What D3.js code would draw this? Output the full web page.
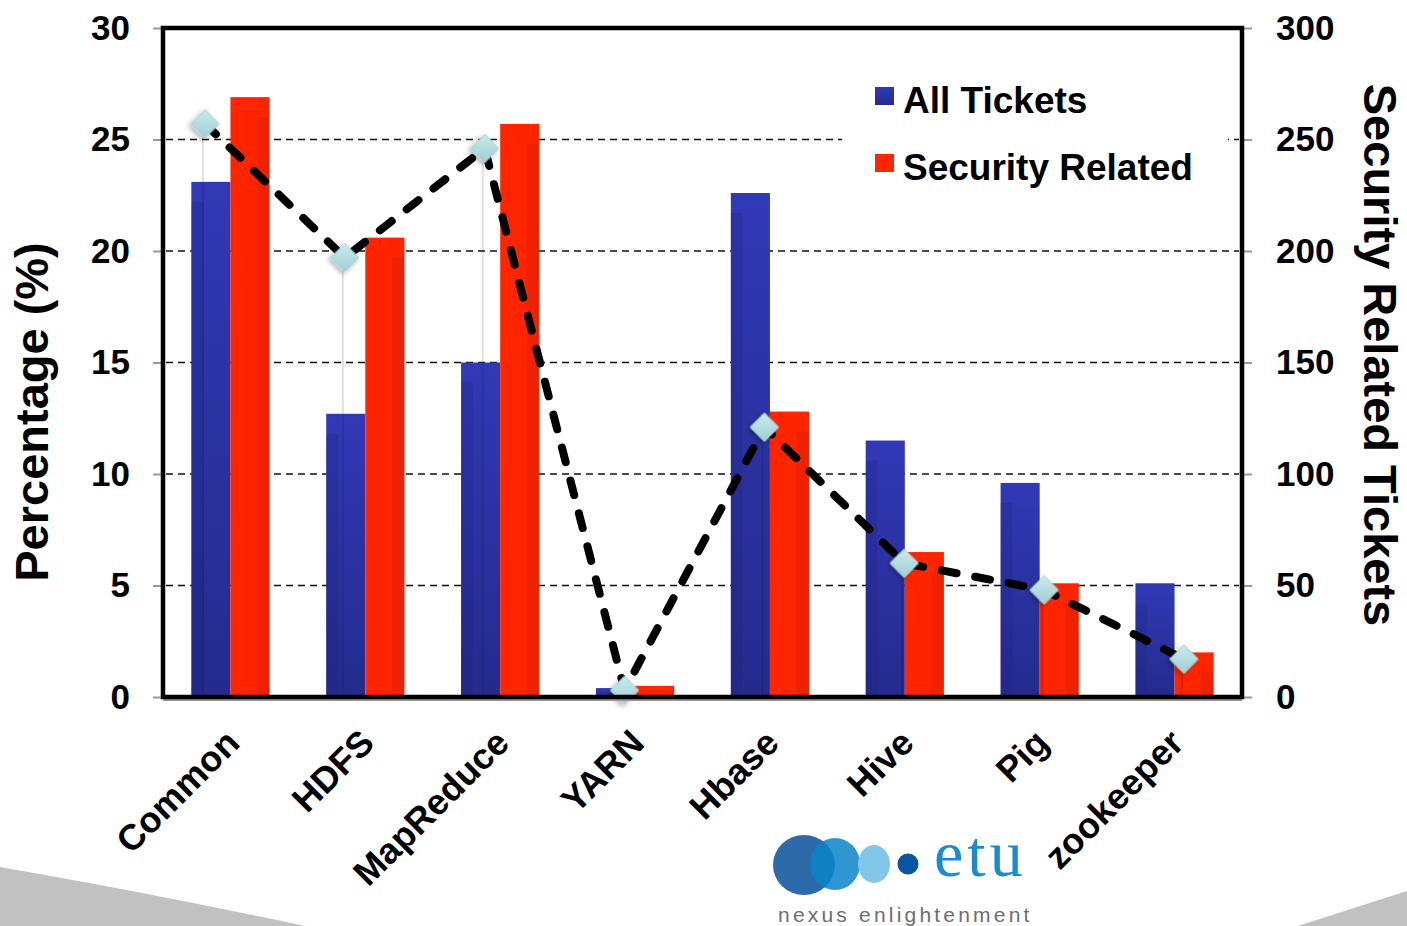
<!DOCTYPE html>
<html lang="en">
<head>
  <meta charset="utf-8">
  <title>Security Related Tickets</title>
  <script src="https://d3js.org/d3.v7.min.js"></script>
  <style type="text/css">
    body { margin: 0; background: #fff; }
    text { font-family: "Liberation Sans", Arial, Helvetica, sans-serif; }
  </style>
</head>
<body>
  <script type="text/javascript">

const categories = ["Common", "HDFS", "MapReduce", "YARN", "Hbase", "Hive", "Pig", "zookeeper"];
const allTickets = [23.1, 12.7, 15.0, 0.4, 22.6, 11.5, 9.6, 5.1];
const securityRelated = [26.9, 20.6, 25.7, 0.5, 12.8, 6.5, 5.1, 2.0];
const securityTickets = [257, 197, 246, 3, 121, 60, 48, 17];
const leftTicks = [0, 5, 10, 15, 20, 25, 30];
const rightTicks = [0, 50, 100, 150, 200, 250, 300];
const seriesNames = ["All Tickets", "Security Related"];

const width = 1407, height = 926;
const plotLeft = 163, plotRight = 1242, plotTop = 28, plotBottom = 697;

const svg = d3.select("body").append("svg")
    .attr("width", width)
    .attr("height", height);

const defs = svg.append("defs");

const blueGrad = defs.append("linearGradient").attr("id", "blueGrad")
    .attr("x1", 0).attr("y1", 0).attr("x2", 0).attr("y2", 1);
blueGrad.append("stop").attr("offset", "0%").attr("stop-color", "#3139b6");
blueGrad.append("stop").attr("offset", "100%").attr("stop-color", "#242b8c");

const diaGrad = defs.append("linearGradient").attr("id", "diaGrad")
    .attr("x1", 0).attr("y1", 0).attr("x2", 1).attr("y2", 1);
diaGrad.append("stop").attr("offset", "0%").attr("stop-color", "#cdeaec");
diaGrad.append("stop").attr("offset", "100%").attr("stop-color", "#9ccfd4");

const shadow = defs.append("filter").attr("id", "shadow")
    .attr("x", "-50%").attr("y", "-50%").attr("width", "200%").attr("height", "200%");
shadow.append("feDropShadow")
    .attr("dx", 0).attr("dy", 3).attr("stdDeviation", 2.5)
    .attr("flood-color", "#000").attr("flood-opacity", 0.3);

// grey corner swooshes
svg.append("path")
    .attr("d", "M0,867 Q150,893 305,926 L0,926 Z")
    .attr("fill", "#c1c1c1");
svg.append("path")
    .attr("d", "M1298,926 Q1360,906 1407,891 L1407,926 Z")
    .attr("fill", "#c1c1c1");

const x0 = d3.scaleBand()
    .domain(categories)
    .range([plotLeft, plotRight])
    .paddingInner(0.42)
    .paddingOuter(0.21);

const x1 = d3.scaleBand()
    .domain(seriesNames)
    .range([0, x0.bandwidth()]);

const xLine = d3.scalePoint()
    .domain(categories)
    .range([205, 1184]);

const yLeft = d3.scaleLinear().domain([0, 30]).range([plotBottom, plotTop]);
const yRight = d3.scaleLinear().domain([0, 300]).range([plotBottom, plotTop]);

// gridlines
svg.append("g")
    .selectAll("line")
    .data(leftTicks.filter(d => d > 0 && d < 30))
    .enter()
    .append("line")
    .attr("x1", plotLeft + 3)
    .attr("x2", plotRight - 3)
    .attr("y1", d => yLeft(d))
    .attr("y2", d => yLeft(d))
    .attr("stroke", "#111")
    .attr("stroke-width", 1.6)
    .attr("stroke-dasharray", "7,5");

// legend background hides the gridline behind it
svg.append("rect")
    .attr("x", 842).attr("y", 62)
    .attr("width", 386).attr("height", 135)
    .attr("fill", "#fff");

const rows = categories.map((c, i) => ({
  cat: c,
  values: [
    { key: "All Tickets", value: allTickets[i] },
    { key: "Security Related", value: securityRelated[i] }
  ]
}));

const groups = svg.append("g")
    .selectAll("g")
    .data(rows)
    .enter()
    .append("g")
    .attr("transform", d => `translate(${x0(d.cat)},0)`);

groups.selectAll("rect.bar")
    .data(d => d.values)
    .enter()
    .append("rect")
    .attr("class", "bar")
    .attr("x", d => x1(d.key))
    .attr("y", d => yLeft(d.value))
    .attr("width", x1.bandwidth())
    .attr("height", d => plotBottom - yLeft(d.value))
    .attr("fill", d => d.key === "All Tickets" ? "url(#blueGrad)" : "#ff2500");

// shading stripes on the bars
groups.selectAll("rect.stripe")
    .data(d => d.values)
    .enter()
    .append("rect")
    .attr("class", "stripe")
    .attr("x", d => d.key === "All Tickets" ? x1(d.key) : x1(d.key) + x1.bandwidth() * 0.68)
    .attr("y", d => Math.min(plotBottom, yLeft(d.value) + 20))
    .attr("width", x1.bandwidth() * 0.3)
    .attr("height", d => Math.max(0, plotBottom - yLeft(d.value) - 20))
    .attr("fill", d => d.key === "All Tickets" ? "#1c2170" : "#b01500")
    .attr("opacity", 0.22);

// faint drop lines under the markers
svg.append("g")
    .selectAll("line")
    .data(securityTickets)
    .enter()
    .append("line")
    .attr("x1", (d, i) => xLine(categories[i]) - 2)
    .attr("x2", (d, i) => xLine(categories[i]) - 2)
    .attr("y1", d => yRight(d))
    .attr("y2", plotBottom)
    .attr("stroke", "#000")
    .attr("stroke-opacity", 0.12)
    .attr("stroke-width", 2);

// dashed line of security tickets
const line = d3.line()
    .x((d, i) => xLine(categories[i]))
    .y(d => yRight(d));

svg.append("path")
    .datum(securityTickets)
    .attr("d", line)
    .attr("fill", "none")
    .attr("stroke", "#000")
    .attr("stroke-width", 8)
    .attr("stroke-linecap", "round")
    .attr("stroke-dasharray", "15,19");

svg.append("g")
    .selectAll("path")
    .data(securityTickets)
    .enter()
    .append("path")
    .attr("d", d3.symbol().type(d3.symbolSquare).size(400))
    .attr("transform", (d, i) => `translate(${xLine(categories[i])},${yRight(d)}) rotate(45)`)
    .attr("fill", "url(#diaGrad)")
    .attr("stroke", "#a9d4d8")
    .attr("stroke-width", 1)
    .attr("filter", "url(#shadow)");

// axes
const leftAxis = svg.append("g")
    .attr("transform", `translate(${plotLeft},0)`)
    .call(d3.axisLeft(yLeft).tickValues(leftTicks).tickSize(10).tickPadding(23));

const rightAxis = svg.append("g")
    .attr("transform", `translate(${plotRight},0)`)
    .call(d3.axisRight(yRight).tickValues(rightTicks).tickSize(10).tickPadding(24));

[leftAxis, rightAxis].forEach(a => {
  a.select(".domain").remove();
  a.selectAll(".tick line").attr("stroke", "#999").attr("stroke-width", 2);
  a.selectAll(".tick text")
      .attr("fill", "#000")
      .style("font-size", "35px")
      .style("font-weight", "bold")
      .style("font-family", "'Liberation Sans', Arial, sans-serif");
});

const xAxis = svg.append("g")
    .attr("transform", `translate(0,${plotBottom})`)
    .call(d3.axisBottom(x0).tickSize(0));
xAxis.select(".domain").remove();
xAxis.selectAll(".tick text")
    .attr("x", 0).attr("y", 0).attr("dy", 0)
    .attr("text-anchor", "end")
    .attr("transform", "translate(11,48) rotate(-45)")
    .attr("fill", "#000")
    .style("font-size", "36px")
    .style("font-weight", "bold")
    .style("font-family", "'Liberation Sans', Arial, sans-serif");

// frame
svg.append("line").attr("x1", plotLeft).attr("x2", plotRight).attr("y1", plotBottom + 3).attr("y2", plotBottom + 3)
    .attr("stroke", "#999").attr("stroke-width", 2);
svg.append("path")
    .attr("d", `M${plotLeft},${plotBottom} L${plotLeft},${plotTop} L${plotRight},${plotTop} L${plotRight},${plotBottom} Z`)
    .attr("fill", "none")
    .attr("stroke", "#000")
    .attr("stroke-width", 4.5);

// legend
const legend = svg.append("g");
const legendY = [87, 154];
seriesNames.forEach((name, i) => {
  legend.append("rect")
      .attr("x", 875).attr("y", legendY[i])
      .attr("width", 19).attr("height", 18)
      .attr("fill", i === 0 ? "url(#blueGrad)" : "#ff2500");
  legend.append("text")
      .attr("x", 903).attr("y", legendY[i] + 26)
      .style("font-size", "37px")
      .style("font-weight", "bold")
      .text(name);
});

// axis titles
svg.append("text")
    .attr("transform", "translate(48,412) rotate(-90)")
    .attr("text-anchor", "middle")
    .style("font-size", "47px")
    .style("font-weight", "bold")
    .text("Percentage (%)");

svg.append("text")
    .attr("transform", "translate(1364,355) rotate(90)")
    .attr("text-anchor", "middle")
    .style("font-size", "47px")
    .style("font-weight", "bold")
    .text("Security Related Tickets");

// etu logo
const logo = svg.append("g");
logo.append("ellipse").attr("cx", 804).attr("cy", 865).attr("rx", 31).attr("ry", 30).attr("fill", "#2c6aa9");
logo.append("ellipse").attr("cx", 835).attr("cy", 864).attr("rx", 25).attr("ry", 26).attr("fill", "#0a84c8").attr("opacity", 0.85);
logo.append("ellipse").attr("cx", 874).attr("cy", 864).attr("rx", 16).attr("ry", 19).attr("fill", "#82c6e9");
logo.append("circle").attr("cx", 908).attr("cy", 864).attr("r", 10.5).attr("fill", "#0b55a0");
logo.append("text")
    .attr("x", 934).attr("y", 876)
    .style("font-family", "'Liberation Serif', 'DejaVu Serif', serif")
    .style("font-size", "66px")
    .style("letter-spacing", "4px")
    .attr("fill", "#1b8bd0")
    .text("etu");
logo.append("text")
    .attr("x", 778).attr("y", 922)
    .style("font-size", "21px")
    .style("letter-spacing", "3.2px")
    .attr("fill", "#6e6e6e")
    .text("nexus enlightenment");

  </script>
</body>
</html>
